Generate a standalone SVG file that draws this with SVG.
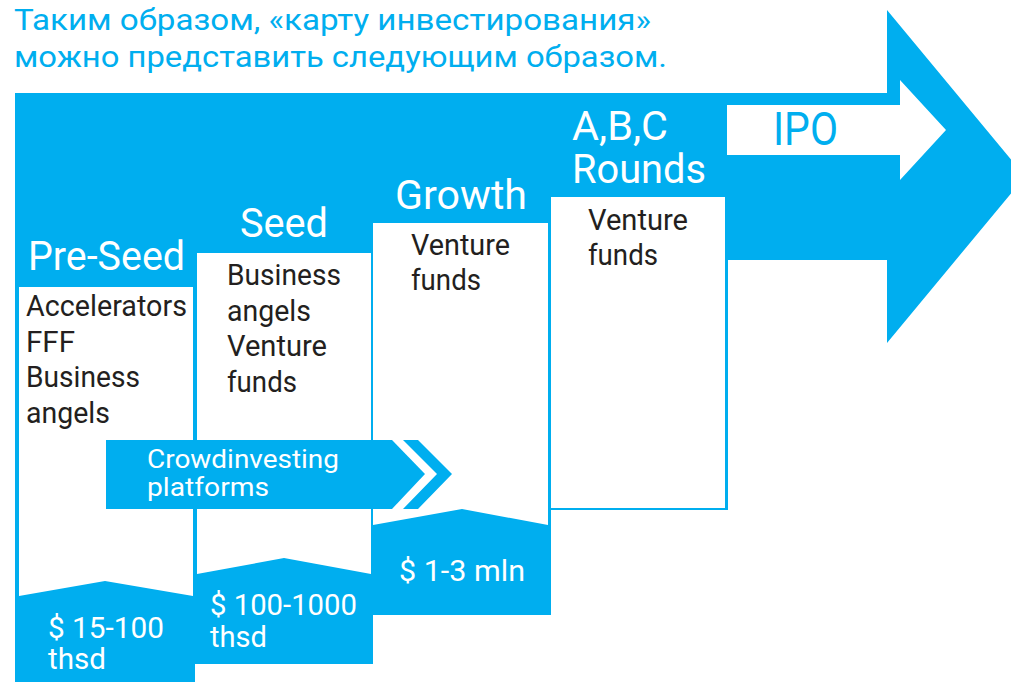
<svg xmlns="http://www.w3.org/2000/svg" width="1011" height="682" viewBox="0 0 1011 682">
  <style>
    .blue { fill: #00AEEF; }
    .white { fill: #FFFFFF; }
    text { font-family: Roboto, "Liberation Sans", "DejaVu Sans", sans-serif; }
    .title { fill: #00AEEF; font-size: 30px; }
    .head { fill: #FFFFFF; font-size: 40px; }
    .body { fill: #231F20; font-size: 29px; }
    .money { fill: #FFFFFF; font-size: 29px; }
    .crowd { fill: #FFFFFF; font-size: 26px; }
  </style>

  <rect width="1011" height="682" fill="#FFFFFF"/>

  <!-- heading -->
  <g id="title">
    <text class="title" x="14" y="30" textLength="637" lengthAdjust="spacingAndGlyphs">Таким образом, «карту инвестирования»</text>
    <text class="title" x="14" y="67" textLength="653" lengthAdjust="spacingAndGlyphs">можно представить следующим образом.</text>
  </g>

  <!-- main arrow behind the stages -->
  <g id="main-arrow">
    <polygon class="blue" points="15,93 887,93 887,10 1025,176.5 887,343 887,260 15,260"/>
  </g>

  <!-- stage: Pre-Seed -->
  <g id="pre-seed">
    <rect class="blue" x="15" y="93" width="180" height="589"/>
    <polygon class="white" points="19,287 193,287 193,596 105,581 19,596"/>
    <text class="head" x="28" y="270" textLength="157" lengthAdjust="spacingAndGlyphs">Pre-Seed</text>
    <text class="body" x="26" y="316" textLength="161" lengthAdjust="spacingAndGlyphs">Accelerators</text>
    <text class="body" x="26" y="352" textLength="49" lengthAdjust="spacingAndGlyphs">FFF</text>
    <text class="body" x="26" y="387" textLength="114" lengthAdjust="spacingAndGlyphs">Business</text>
    <text class="body" x="26" y="423" textLength="84" lengthAdjust="spacingAndGlyphs">angels</text>
    <text class="money" x="48" y="638" textLength="116" lengthAdjust="spacingAndGlyphs">$ 15-100</text>
    <text class="money" x="48" y="669" textLength="58" lengthAdjust="spacingAndGlyphs">thsd</text>
  </g>

  <!-- stage: Seed -->
  <g id="seed">
    <rect class="blue" x="195" y="93" width="178" height="571"/>
    <polygon class="white" points="197,253 371,253 371,574 284,558 197,574"/>
    <text class="head" x="240" y="237" textLength="88" lengthAdjust="spacingAndGlyphs">Seed</text>
    <text class="body" x="227" y="285" textLength="114" lengthAdjust="spacingAndGlyphs">Business</text>
    <text class="body" x="227" y="321" textLength="84" lengthAdjust="spacingAndGlyphs">angels</text>
    <text class="body" x="227" y="356" textLength="100" lengthAdjust="spacingAndGlyphs">Venture</text>
    <text class="body" x="227" y="392" textLength="70" lengthAdjust="spacingAndGlyphs">funds</text>
    <text class="money" x="210" y="615" textLength="147" lengthAdjust="spacingAndGlyphs">$ 100-1000</text>
    <text class="money" x="210" y="647" textLength="57" lengthAdjust="spacingAndGlyphs">thsd</text>
  </g>

  <!-- stage: Growth -->
  <g id="growth">
    <rect class="blue" x="371" y="93" width="180" height="522"/>
    <polygon class="white" points="373,223 548,223 548,525 462,509 373,525"/>
    <text class="head" x="395" y="209" textLength="132" lengthAdjust="spacingAndGlyphs">Growth</text>
    <text class="body" x="411" y="255" textLength="99" lengthAdjust="spacingAndGlyphs">Venture</text>
    <text class="body" x="411" y="290" textLength="70" lengthAdjust="spacingAndGlyphs">funds</text>
    <text class="money" x="399" y="581" textLength="126" lengthAdjust="spacingAndGlyphs">$ 1-3 mln</text>
  </g>

  <!-- stage: A,B,C Rounds -->
  <g id="abc-rounds">
    <rect class="blue" x="548" y="93" width="180" height="417"/>
    <rect class="white" x="551" y="197" width="174" height="311"/>
    <text class="head" x="572" y="140" font-size="42" textLength="96" lengthAdjust="spacingAndGlyphs">A,B,C</text>
    <text class="head" x="572" y="183" font-size="42" textLength="134" lengthAdjust="spacingAndGlyphs">Rounds</text>
    <text class="body" x="588" y="230" textLength="100" lengthAdjust="spacingAndGlyphs">Venture</text>
    <text class="body" x="588" y="265" textLength="70" lengthAdjust="spacingAndGlyphs">funds</text>
  </g>

  <!-- stage: IPO -->
  <g id="ipo">
    <polygon class="white" points="727,105 900,105 900,80 946,130 900,180 900,155 727,155"/>
    <text x="773" y="145" fill="#00AEEF" font-size="46" textLength="65" lengthAdjust="spacingAndGlyphs">IPO</text>
  </g>

  <!-- crowdinvesting band spanning the early stages -->
  <g id="crowdinvesting">
    <polygon class="blue" points="106,440 392,440 425,474 392,509 106,509"/>
    <polygon class="blue" points="403,440 418,440 452,474 418,509 403,509 437,474"/>
    <text class="crowd" x="147" y="468" textLength="192" lengthAdjust="spacingAndGlyphs">Crowdinvesting</text>
    <text class="crowd" x="147" y="496" textLength="122" lengthAdjust="spacingAndGlyphs">platforms</text>
  </g>

  <g id="connectors"></g>
</svg>
